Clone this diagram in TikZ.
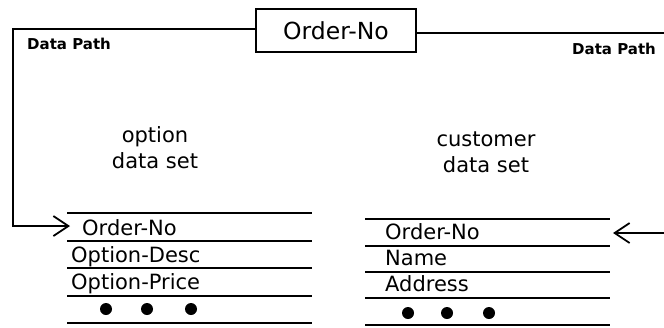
\documentclass[tikz,border=0pt]{standalone}
\usepackage{fontspec}
\setmainfont{DejaVu Sans}
\usetikzlibrary{arrows.meta}
\begin{document}
\begin{tikzpicture}[x=1pt,y=-1pt,
  ln/.style={line width=1.7pt},
  rowtext/.style={anchor=base west,inner sep=0pt,font=\fontsize{21}{23}\selectfont},
  title/.style={align=center,font=\fontsize{21}{26}\selectfont,inner sep=0pt},
  pathlabel/.style={anchor=base west,inner sep=0pt,font=\bfseries\fontsize{15}{16}\selectfont},
  dot/.style={circle,fill=black,inner sep=0pt,minimum size=12pt},
  openarrow/.style={ln,-{Straight Barb[length=15pt,width=20pt,line width=1.8pt]}}]
\useasboundingbox (0,0) rectangle (664,327);
% top box
\node[draw,ln,minimum width=160pt,minimum height=43pt,inner sep=0pt,font=\fontsize{23.5}{26}\selectfont] (ordbox) at (336,30.5) {Order-No};
% labels
\node[pathlabel] (lpath) at (27,49) {Data Path};
\node[pathlabel] (rpath) at (572,54) {Data Path};
% titles
\node[title] (optitle) at (155,148) {option\\data set};
\node[title] (custitle) at (486,152) {customer\\data set};
% left table lines
\foreach \y in {213,241,268,296,323}
  \draw[ln] (67,\y) -- (312,\y);
% right table lines
\foreach \y in {219,246,272,298,325}
  \draw[ln] (365,\y) -- (610,\y);
% left rows
\node[rowtext] (l1) at (82,235) {Order-No};
\node[rowtext] (l2) at (71,262) {Option-Desc};
\node[rowtext] (l3) at (71,289) {Option-Price};
\node[dot] (ld1) at (106,309) {};
\node[dot] (ld2) at (147,309) {};
\node[dot] (ld3) at (191,309) {};
% right rows
\node[rowtext] (r1) at (385,239) {Order-No};
\node[rowtext] (r2) at (385,265) {Name};
\node[rowtext] (r3) at (385,291) {Address};
\node[dot] (rd1) at (408,313) {};
\node[dot] (rd2) at (447,313) {};
\node[dot] (rd3) at (489,313) {};
% connectors
\coordinate (lcorner) at (13,29);
\coordinate (ltip) at (70,226);
\draw[openarrow] (ordbox.west |- lcorner) -- (lcorner) |- (ltip);
\coordinate (redge1) at (664,33);
\coordinate (redge2) at (664,233);
\coordinate (rtip) at (613,233);
\draw[ln] (ordbox.east |- redge1) -- (redge1);
\draw[openarrow] (redge2) -- (rtip);
\end{tikzpicture}
\end{document}
